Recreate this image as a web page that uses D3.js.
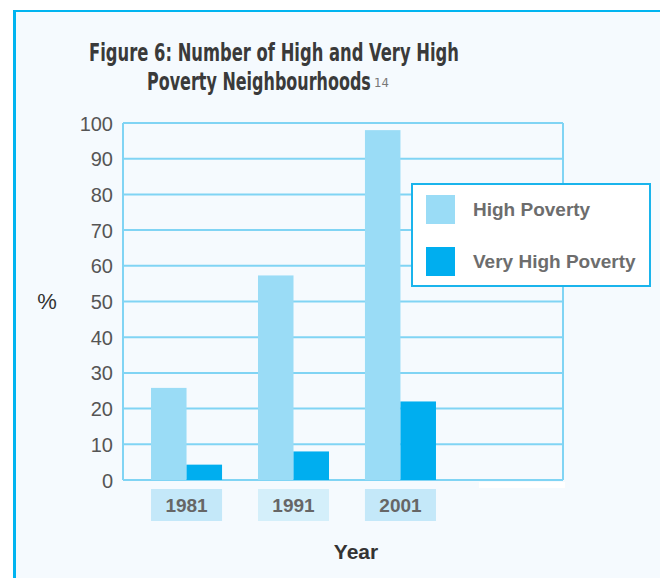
<!DOCTYPE html>
<html>
<head>
<meta charset="utf-8">
<script src="https://cdn.jsdelivr.net/npm/d3@7"></script>
<style>
  body { margin: 0; background: #fff; }
  svg { display: block; }
</style>
</head>
<body>
<script>
// data
const years = ["1981", "1991", "2001"];
const seriesNames = ["High Poverty", "Very High Poverty"];
const highPoverty = [25.8, 57.3, 98];
const veryHighPoverty = [4.3, 8, 22];
const yTicks = [0, 10, 20, 30, 40, 50, 60, 70, 80, 90, 100];

const width = 660, height = 578;
const colors = ["#9adcf6", "#00aeef"];

const svg = d3.select("body").append("svg")
    .attr("width", width)
    .attr("height", height);

// panel background + frame
svg.append("rect").attr("x", 14).attr("y", 11).attr("width", width).attr("height", height)
    .attr("fill", "#f5fafe");
svg.append("line").attr("x1", 14.5).attr("x2", 14.5).attr("y1", 10).attr("y2", height)
    .attr("stroke", "#00b4f0").attr("stroke-width", 3);
svg.append("line").attr("x1", 13).attr("x2", width).attr("y1", 11).attr("y2", 11)
    .attr("stroke", "#00b4f0").attr("stroke-width", 2);

// title - squeeze each line to the width it has in the original
const titleFont = "'Liberation Sans Narrow', 'DejaVu Sans Condensed', sans-serif";
function titleLine(txt, x0, y0, w) {
    const t = svg.append("text")
        .style("font-family", titleFont).style("font-weight", "bold").style("font-size", "25px")
        .attr("fill", "#3a3a3a")
        .text(txt);
    const sx = w / t.node().getComputedTextLength();
    t.attr("transform", `translate(${x0},${y0}) scale(${sx},1)`);
}
titleLine("Figure 6: Number of High and Very High", 89, 61, 370);
titleLine("Poverty Neighbourhoods", 147, 90, 224);
svg.append("text").attr("x", 374).attr("y", 87)
    .style("font-family", titleFont).style("font-size", "13px")
    .attr("fill", "#777")
    .text("14");

// scales
const plot = { left: 123, right: 563, top: 123, bottom: 480 };

const y = d3.scaleLinear().domain([0, 100]).range([plot.bottom, plot.top]);

const x = d3.scaleBand().domain(years)
    .range([plot.left, 464])
    .paddingInner(0.336)
    .paddingOuter(0.262);

const xInner = d3.scaleBand().domain(seriesNames).range([0, x.bandwidth()]);

// gridlines
svg.append("g").selectAll("line")
    .data(yTicks)
    .join("line")
    .attr("x1", plot.left).attr("x2", plot.right)
    .attr("y1", d => y(d)).attr("y2", d => y(d))
    .attr("stroke", "#80d4f4").attr("stroke-width", 2);

svg.append("line").attr("x1", plot.left).attr("x2", plot.left)
    .attr("y1", plot.top).attr("y2", plot.bottom)
    .attr("stroke", "#80d4f4").attr("stroke-width", 2);
svg.append("line").attr("x1", plot.right).attr("x2", plot.right)
    .attr("y1", plot.top).attr("y2", plot.bottom)
    .attr("stroke", "#80d4f4").attr("stroke-width", 2);

// small white strip under the axis (as in the original)
svg.append("rect").attr("x", 479).attr("y", 482).attr("width", 86).attr("height", 6)
    .attr("fill", "#fff");

// y axis
const yAxis = svg.append("g")
    .attr("transform", `translate(${plot.left - 10},0)`)
    .call(d3.axisLeft(y).tickValues(yTicks).tickSize(0).tickPadding(0));
yAxis.select(".domain").remove();
yAxis.selectAll("text")
    .attr("dy", "0.35em")
    .style("font-family", "'Liberation Sans', Arial, sans-serif")
    .style("font-size", "20px")
    .attr("fill", "#555");

svg.append("text").attr("x", 47).attr("y", 309).attr("text-anchor", "middle")
    .style("font-family", "'Liberation Sans', Arial, sans-serif").style("font-size", "22px")
    .attr("fill", "#333").text("%");

// bars
const rows = years.map((yr, i) => ({ year: yr, values: [highPoverty[i], veryHighPoverty[i]] }));

const groups = svg.append("g").selectAll("g")
    .data(rows)
    .join("g")
    .attr("transform", d => `translate(${x(d.year)},0)`);

groups.selectAll("rect")
    .data(d => d.values.map((v, j) => ({ key: seriesNames[j], value: v, j: j })))
    .join("rect")
    .attr("x", d => xInner(d.key))
    .attr("width", xInner.bandwidth())
    .attr("y", d => y(d.value))
    .attr("height", d => y(0) - y(d.value))
    .attr("fill", d => colors[d.j]);

// category labels in boxes
const boxFills = ["#c4e8f9", "#d4effa", "#c4e8f9"];
const xLabels = svg.append("g").selectAll("g")
    .data(years)
    .join("g")
    .attr("transform", d => `translate(${x(d)},489)`);
xLabels.append("rect")
    .attr("width", x.bandwidth()).attr("height", 32)
    .attr("fill", (d, i) => boxFills[i]);
xLabels.append("text")
    .attr("x", x.bandwidth() / 2).attr("y", 23)
    .attr("text-anchor", "middle")
    .style("font-family", "'Liberation Sans', Arial, sans-serif")
    .style("font-weight", "bold").style("font-size", "19px")
    .attr("fill", "#666")
    .text(d => d);

svg.append("text").attr("x", 356).attr("y", 559).attr("text-anchor", "middle")
    .style("font-family", "'Liberation Sans', Arial, sans-serif")
    .style("font-weight", "bold").style("font-size", "21px")
    .attr("fill", "#333").text("Year");

// legend
const legend = svg.append("g").attr("transform", "translate(412,184)");
legend.append("rect").attr("width", 238).attr("height", 102)
    .attr("fill", "#fff").attr("stroke", "#1ab4ec").attr("stroke-width", 2);
const items = legend.selectAll("g.item")
    .data(seriesNames)
    .join("g").attr("class", "item")
    .attr("transform", (d, i) => `translate(14,${11 + i * 52})`);
items.append("rect").attr("width", 29).attr("height", 29)
    .attr("fill", (d, i) => colors[i]);
items.append("text").attr("x", 47).attr("y", 21)
    .style("font-family", "'Liberation Sans', Arial, sans-serif")
    .style("font-weight", "bold").style("font-size", "19px")
    .attr("fill", "#6d6d6d")
    .text(d => d);
</script>
</body>
</html>
